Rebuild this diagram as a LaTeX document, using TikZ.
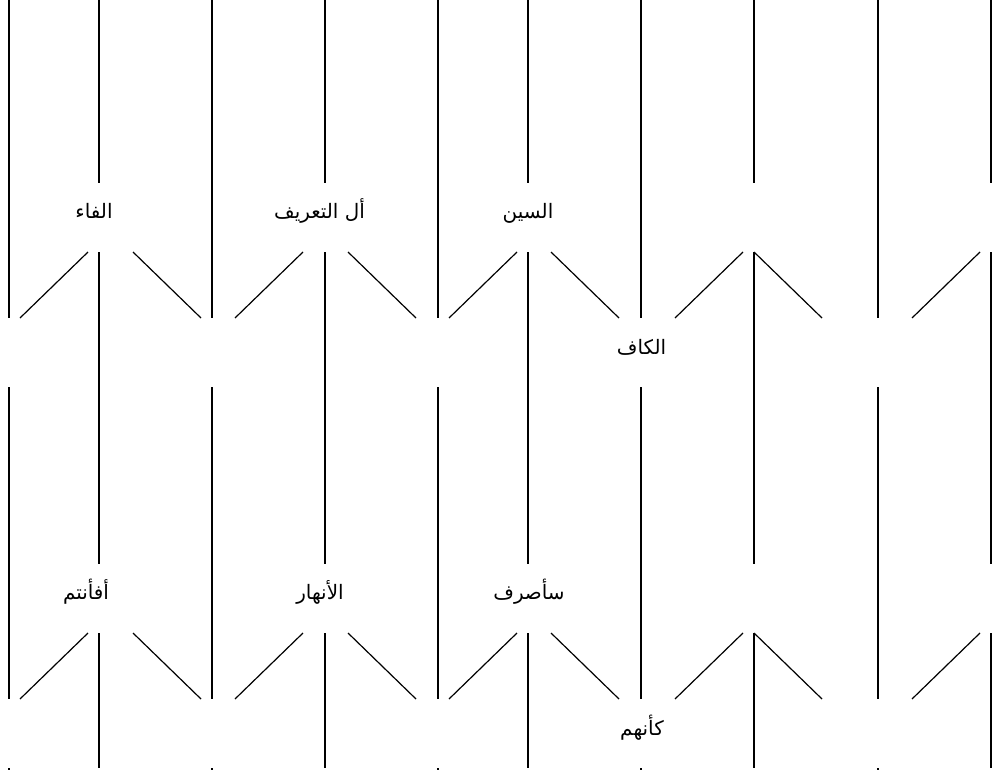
\documentclass[tikz,border=0pt]{standalone}
\usepackage{fontspec}
\usetikzlibrary{calc}
\TeXXeTstate=1
\newfontfamily\arabicfont[Script=Arabic]{DejaVu Sans}
\begin{document}
\begin{tikzpicture}[x=1bp,y=-1bp,
  hub/.style={shape=rectangle, minimum height=69bp, minimum width=0pt, inner sep=0pt, outer sep=0pt},
  lbl/.style={font=\arabicfont\fontsize{20}{24}\selectfont, inner sep=0pt, anchor=base},
  wire/.style={draw=black, line width=1.2bp}]
\fill[white] (0,0) rectangle (992,771);
\useasboundingbox (0,0) rectangle (992,771);
% junction nodes
\foreach \r in {0,1} {
  \pgfmathsetmacro{\ya}{217.5+381*\r}
  \pgfmathsetmacro{\yb}{352.5+381*\r}
  \foreach \i/\x in {1/99,2/325,3/528,4/754,5/991} {\node[hub] (a\i-\r) at (\x,\ya) {};}
  \foreach \i/\x in {1/9,2/212,3/438,4/641,5/878} {\node[hub] (b\i-\r) at (\x,\yb) {};}
}
% labels
\node[lbl] (t1) at (94,218) {\beginR الفاء\endR};
\node[lbl] (t2) at (319.5,218) {\beginR أل التعريف\endR};
\node[lbl] (t3) at (528,218) {\beginR السين\endR};
\node[lbl] (t4) at (641.5,354) {\beginR الكاف\endR};
\node[lbl] (t5) at (86,599) {\beginR أفأنتم\endR};
\node[lbl] (t6) at (320,599) {\beginR الأنهار\endR};
\node[lbl] (t7) at (529,599) {\beginR سأصرف\endR};
\node[lbl] (t8) at (642,735) {\beginR كأنهم\endR};
% vertical lines
\foreach \i/\x in {1/99,2/325,3/528,4/754,5/991} {
  \coordinate (ta\i) at (\x,0);
  \coordinate (ba\i) at (\x,768);
  \draw[wire] (ta\i) -- (a\i-0.north);
  \draw[wire] (a\i-0.south) -- (a\i-1.north);
  \draw[wire] (a\i-1.south) -- (ba\i);
}
\foreach \i/\x in {1/9,2/212,3/438,4/641,5/878} {
  \coordinate (tb\i) at (\x,0);
  \coordinate (bb\i) at (\x,770);
  \draw[wire] (tb\i) -- (b\i-0.north);
  \draw[wire] (b\i-0.south) -- (b\i-1.north);
  \draw[wire] (b\i-1.south) -- (bb\i);
}
% diagonals
\foreach \r in {0,1} {
  \draw[wire] ($(a1-\r.south)+(-11,0)$) -- ($(b1-\r.north)+(11,0)$);
  \draw[wire] ($(a1-\r.south)+(34,0)$) -- ($(b2-\r.north)+(-11,0)$);
  \draw[wire] ($(a2-\r.south)+(-22,0)$) -- ($(b2-\r.north)+(23,0)$);
  \draw[wire] ($(a2-\r.south)+(23,0)$) -- ($(b3-\r.north)+(-22,0)$);
  \draw[wire] ($(a3-\r.south)+(-11,0)$) -- ($(b3-\r.north)+(11,0)$);
  \draw[wire] ($(a3-\r.south)+(23,0)$) -- ($(b4-\r.north)+(-22,0)$);
  \draw[wire] ($(a4-\r.south)+(-11,0)$) -- ($(b4-\r.north)+(34,0)$);
  \draw[wire] (a4-\r.south) -- ($(b5-\r.north)+(-56,0)$);
  \draw[wire] ($(a5-\r.south)+(-11,0)$) -- ($(b5-\r.north)+(34,0)$);
}
\end{tikzpicture}
\end{document}
